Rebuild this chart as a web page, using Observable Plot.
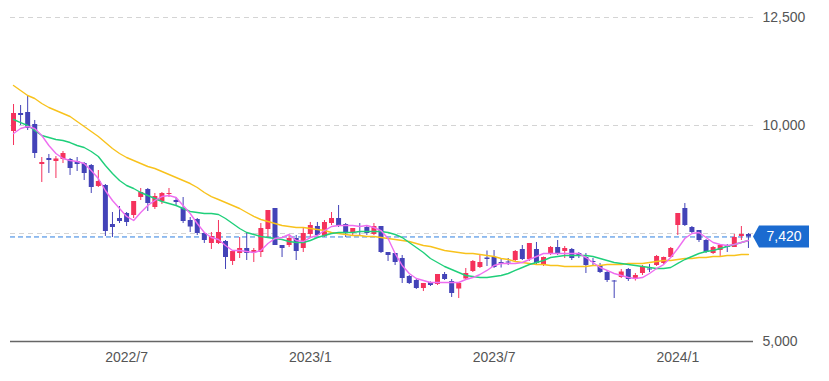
<!DOCTYPE html>
<html><head><meta charset="utf-8">
<script src="https://cdn.jsdelivr.net/npm/d3@7"></script>
<script src="https://cdn.jsdelivr.net/npm/@observablehq/plot@0.6"></script>
<style>body{margin:0;background:#fff;} svg{display:block}</style>
</head><body><div id="chart"></div>
<script>
const weekStart = "2022-03-14", weekEnd = "2024-03-12";
const open = [9861,10278,10301,10023,9097,9236,9167,9213,9213,9167,9120,9074,8588,8611,7708,7847,7963,7917,8333,8519,8102,8241,8403,8264,8079,7801,7824,7500,7269,7269,7315,6852,7037,7153,7048,7060,7593,8079,7222,7222,7384,7153,7477,7662,7431,7731,7847,7708,7500,7546,7639,7477,7662,7060,7037,6921,6505,6412,6227,6366,6319,6551,6389,6215,6447,6620,6713,6933,6944,6829,6840,6875,7130,6898,7130,6759,7014,7176,7083,7130,7037,6944,6852,6759,6597,6400,6481,6667,6435,6574,6678,6759,6806,6944,7685,8079,7639,7569,7338,7037,7106,7222,7176,7431,7477];
const high = [10486,10463,10694,10116,9259,9329,9282,9398,9236,9259,9144,9097,8958,8634,7986,8125,7986,8241,8542,8542,8426,8449,8542,8333,8333,7870,7847,7523,7523,7801,7338,7106,7407,7523,7153,7731,8032,8079,7222,7454,7454,7616,7755,7755,7801,7986,8148,7731,7616,7731,7685,7731,7662,7060,7037,6991,6528,6435,6343,6378,6551,6597,6435,6366,6690,6875,7014,7095,7106,6921,6921,7106,7222,7269,7292,6955,7199,7338,7199,7153,7060,7037,6921,6806,6644,6412,6667,6690,6574,6759,6782,6991,6955,7176,7963,8194,7662,7569,7361,7199,7245,7245,7477,7662,7500];
const low = [9537,10000,9884,9236,8681,8889,8773,9120,8843,8935,8727,8426,8565,7431,7407,7731,7662,7847,8264,8009,8056,8171,8333,8148,7731,7523,7454,7269,7130,7245,6667,6760,6921,6875,6829,6944,7384,7222,6944,7176,6875,7060,7407,7454,7407,7685,7639,7407,7454,7454,7454,7454,7037,6852,6759,6343,6319,6204,6157,6273,6296,6412,6019,5995,6424,6597,6690,6736,6690,6701,6759,6852,6875,6852,6759,6736,6991,6991,6921,6875,6921,6574,6759,6574,6366,5995,6458,6389,6400,6528,6597,6736,6782,6933,7454,7662,7500,7292,7037,7014,6968,7060,7176,7338,7153];
const close = [10278,10232,9931,9352,9144,9190,9225,9352,9005,9097,8889,8565,8704,7546,7639,7778,7755,8241,8449,8194,8356,8426,8426,8218,7778,7650,7500,7338,7431,7523,6944,7083,7153,7037,7106,7616,8032,7222,7153,7384,7083,7500,7685,7454,7755,7847,7685,7523,7616,7523,7500,7662,7060,6991,6829,6458,6343,6227,6343,6296,6551,6435,6111,6343,6574,6852,6829,6898,6713,6794,6817,7083,6898,7269,6806,6944,7176,7014,7153,6921,6968,6759,6829,6597,6412,6378,6609,6435,6528,6736,6655,6968,6944,7153,7963,7685,7523,7338,7060,7176,7222,7176,7407,7477,7420];
const maShort = [9815,9931,9977,9931,9769,9537,9352,9236,9190,9167,9120,8958,8773,8495,8264,8079,7894,7801,7986,8148,8264,8356,8380,8333,8148,7963,7731,7523,7407,7361,7222,7106,7106,7083,7060,7106,7269,7384,7407,7477,7338,7315,7407,7454,7569,7662,7685,7685,7685,7662,7685,7639,7569,7384,7037,6759,6574,6458,6412,6366,6366,6366,6366,6366,6435,6481,6551,6644,6759,6806,6806,6806,6829,6898,6968,7037,7037,7037,7037,7037,7037,6944,6829,6713,6644,6574,6528,6481,6458,6481,6574,6690,6782,6944,7153,7384,7500,7523,7407,7292,7245,7222,7245,7292,7338];
const maMid = [10139,10069,10000,9884,9769,9722,9676,9653,9606,9537,9491,9398,9282,9074,8889,8727,8611,8542,8449,8380,8310,8241,8194,8148,8079,8009,7986,7963,7963,7940,7847,7731,7616,7523,7477,7431,7407,7384,7361,7315,7292,7292,7338,7407,7454,7500,7523,7523,7523,7546,7546,7546,7546,7523,7477,7407,7292,7176,7060,6921,6829,6736,6667,6597,6528,6505,6481,6481,6505,6528,6574,6644,6713,6782,6829,6875,6944,6968,6991,6991,6991,6991,6968,6921,6875,6829,6806,6782,6759,6736,6713,6690,6690,6713,6806,6898,6968,7037,7083,7106,7153,7199,7245,7292,7338];
const maLong = [10926,10810,10694,10625,10509,10417,10347,10278,10208,10093,9977,9861,9745,9606,9468,9352,9259,9190,9120,9051,9005,8935,8866,8796,8727,8657,8565,8449,8356,8287,8218,8148,8079,7986,7894,7824,7778,7731,7685,7662,7639,7639,7616,7593,7569,7523,7500,7477,7454,7454,7431,7431,7407,7384,7361,7338,7315,7269,7222,7199,7153,7106,7083,7060,7037,7037,7014,6991,6968,6921,6898,6852,6829,6806,6782,6782,6759,6759,6736,6736,6736,6736,6759,6759,6782,6782,6782,6806,6806,6806,6829,6852,6875,6875,6898,6921,6921,6944,6944,6968,6968,6991,6991,7014,7014];
const yTicks = [5000, 10000, 12500];
const gridValues = [7500, 10000, 12500];
const xTickDates = ["2022-07-04", "2023-01-02", "2023-07-03", "2024-01-01"];
const xTickLabels = ["2022/7", "2023/1", "2023/7", "2024/1"];
const lastPrice = 7420;

const RED = "#f5325c", BLUE = "#4343b8";
const dates = d3.utcMonday.range(new Date(weekStart), new Date(weekEnd));
const candles = dates.map((date, i) => ({date, open: open[i], high: high[i], low: low[i], close: close[i],
  color: close[i] >= open[i] ? RED : BLUE}));
const maRows = dates.map((date, i) => ({date, s: maShort[i], m: maMid[i], l: maLong[i]}));
const labelMap = new Map(xTickDates.map((d, i) => [+new Date(d), xTickLabels[i]]));

const chart = Plot.plot({
  width: 829, height: 381,
  marginLeft: 10, marginRight: 76, marginTop: 17, marginBottom: 40,
  style: {fontFamily: "'Liberation Sans', Arial, sans-serif", fontSize: "14px", color: "#555", background: "#fff", overflow: "visible"},
  color: {type: "identity"},
  x: {type: "utc", domain: [new Date("2022-03-11"), new Date("2024-03-16")],
      ticks: xTickDates.map(d => new Date(d)), tickFormat: d => labelMap.get(+d),
      tickSize: 0, tickPadding: 11, label: null},
  y: {domain: [5000, 12500], axis: "right", ticks: yTicks, tickFormat: d3.format(","),
      tickSize: 0, tickPadding: 9, label: null},
  marks: [
    Plot.ruleY(gridValues, {stroke: "#d4d4d4", strokeDasharray: "5,4"}),
    Plot.ruleY([5000], {stroke: "#666", strokeWidth: 1.5}),
    Plot.ruleY([lastPrice], {stroke: "#2f7fe0", strokeDasharray: "5,3"}),
    Plot.ruleX(candles, {x: "date", y1: "low", y2: "high", stroke: "color", strokeWidth: 1}),
    Plot.ruleX(candles, {x: "date", y1: "open", y2: "close", stroke: "color", strokeWidth: 5}),
    Plot.line(maRows, {x: "date", y: "l", stroke: "#f8c21c", strokeWidth: 1.4}),
    Plot.line(maRows, {x: "date", y: "m", stroke: "#1fcf7a", strokeWidth: 1.4}),
    Plot.line(maRows, {x: "date", y: "s", stroke: "#ee6ef0", strokeWidth: 1.4})
  ]
});
document.getElementById("chart").append(chart);

const svg = d3.select(chart);
const cy = chart.scale("y").apply(lastPrice);
const xr = chart.scale("x").range[1];
svg.append("path")
  .attr("d", `M${xr},${cy} L${xr + 6},${cy - 11} H${xr + 56} V${cy + 11} H${xr + 6} Z`)
  .attr("fill", "#1b6bd0");
svg.append("text")
  .attr("x", xr + 31).attr("y", cy).attr("dy", "0.35em")
  .attr("text-anchor", "middle").attr("fill", "#fff")
  .attr("font-size", 14).attr("font-family", "'Liberation Sans', Arial, sans-serif")
  .text(d3.format(",")(lastPrice));
</script>
</body></html>
